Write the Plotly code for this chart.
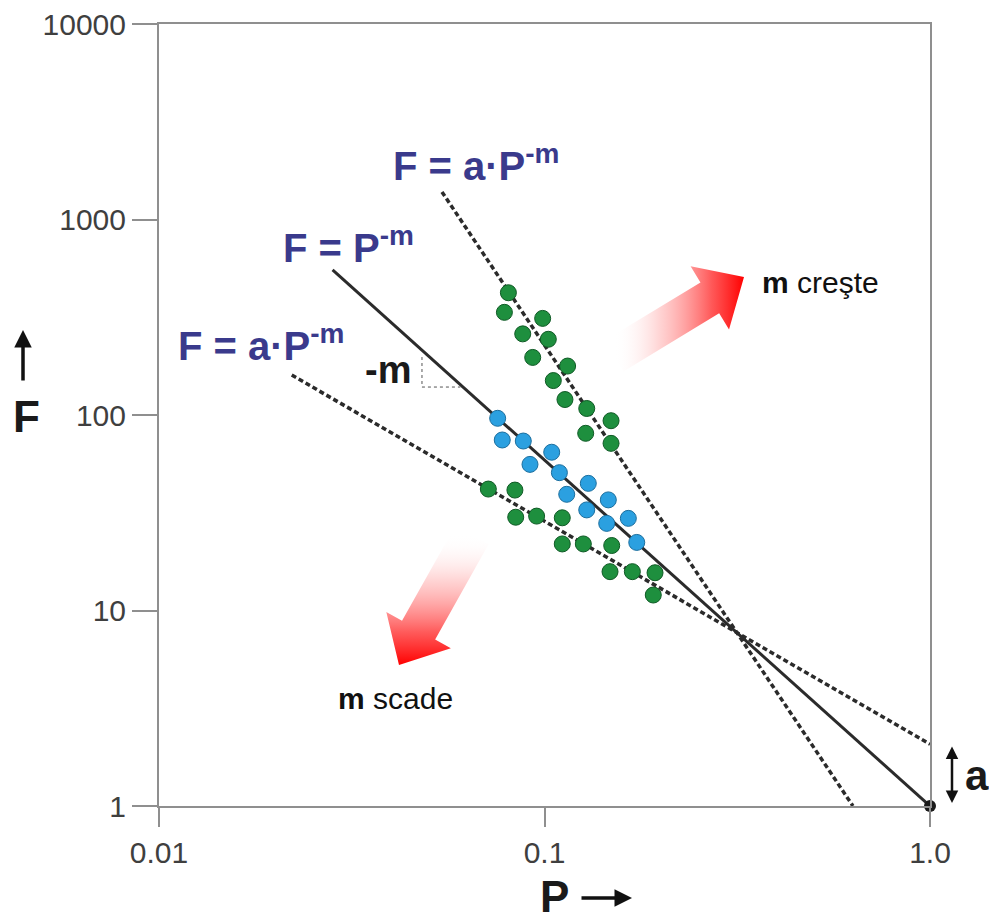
import numpy as np
import plotly.graph_objects as go

# ---- axis ticks ----
x_tickvals = [0.01, 0.1, 1.0]
x_ticktext = ["0.01", "0.1", "1.0"]
y_tickvals = [1, 10, 100, 1000, 10000]
y_ticktext = ["1", "10", "100", "1000", "10000"]

# ---- observations (P, F) ----
# green cloud following the steep trend
steep_P = [0.0806, 0.0787, 0.0989, 0.0878, 0.1023, 0.0932, 0.1148,
           0.1054, 0.1130, 0.1287, 0.1488, 0.1279, 0.1488]
steep_F = [422, 335, 312, 260, 244, 197, 178, 150, 120, 108, 93.5, 80.6, 71.6]

# blue cloud following the reference law
ref_P = [0.0756, 0.0777, 0.0881, 0.1044, 0.0917, 0.1093, 0.1299,
         0.1142, 0.1464, 0.1287, 0.1450, 0.1650, 0.1735]
ref_F = [96.2, 74.5, 73.6, 64.5, 55.9, 50.7, 44.7, 39.3, 36.8, 32.7, 27.9, 29.6, 22.3]

# green cloud following the shallow trend
shallow_P = [0.0715, 0.0838, 0.0842, 0.0954, 0.1112, 0.1112, 0.1261,
             0.1494, 0.1479, 0.1690, 0.1935, 0.1915]
shallow_F = [41.8, 41.3, 30.0, 30.4, 29.8, 21.9, 21.9, 21.5, 15.8, 15.8, 15.6, 12.0]

# ---- power-law guide lines (end points) ----
law_ref_P = [0.0282, 1.0]
law_ref_F = [552, 1.0]
law_steep_P = [0.0542, 0.631]
law_steep_F = [1384, 1.0]
law_shallow_P = [0.0221, 1.0]
law_shallow_F = [160, 2.07]

# slope triangle under the reference line
tri_P = [0.0481, 0.0481, 0.0605]
tri_F = [198, 139, 139]

# ---- styling ----
FONT = "Liberation Sans, Arial, sans-serif"
NAVY = "#3a3a8c"
INK = "#2b2b2b"
AXIS = "#8f8f8f"
GREEN = "#1e8f3e"
GREEN_EDGE = "#0f5a25"
BLUE = "#2ba0e0"
BLUE_EDGE = "#1b6e9e"

# plot area in page pixels
L, R, T, B = 159, 930, 24, 806
W, H = 989, 916


def pp(px, py):
    """page pixel -> paper coordinates"""
    return (px - L) / (R - L), (B - py) / (B - T)


def arrow_polygon(tail, tip, shaft_w, head_w, head_len):
    tail = np.array(tail, float)
    tip = np.array(tip, float)
    d = tip - tail
    u = d / np.hypot(*d)
    n = np.array([-u[1], u[0]])
    base = tip - u * head_len
    pts = [tail + n * shaft_w / 2, base + n * shaft_w / 2, base + n * head_w / 2,
           tip, base - n * head_w / 2, base - n * shaft_w / 2,
           tail - n * shaft_w / 2, tail + n * shaft_w / 2]
    xs, ys = zip(*pts)
    return list(xs), list(ys)


fig = go.Figure()

# gradient arrows (drawn on a pixel-scaled overlay)
fade = [[0.0, "rgba(255,255,255,0)"], [0.35, "rgba(255,160,160,0.45)"],
        [0.75, "rgba(255,60,60,0.85)"], [1.0, "rgba(255,0,0,1)"]]
ux, uy = arrow_polygon((614, 356), (744, 277), 36, 74, 40)
fig.add_trace(go.Scatter(x=ux, y=uy, xaxis="x2", yaxis="y2", mode="lines",
                         line=dict(width=0), fill="toself", hoverinfo="skip",
                         fillgradient=dict(type="horizontal", colorscale=fade,
                                           start=614, stop=744),
                         showlegend=False))
dx, dy = arrow_polygon((472, 535), (399, 665), 38, 74, 40)
fig.add_trace(go.Scatter(x=dx, y=dy, xaxis="x2", yaxis="y2", mode="lines",
                         line=dict(width=0), fill="toself", hoverinfo="skip",
                         fillgradient=dict(type="vertical", colorscale=fade,
                                           start=535, stop=665),
                         showlegend=False))

# guide lines
dash_style = dict(color=INK, width=3.5, dash="5px,3px")
fig.add_trace(go.Scatter(x=law_steep_P, y=law_steep_F, mode="lines",
                         line=dash_style, showlegend=False))
fig.add_trace(go.Scatter(x=law_shallow_P, y=law_shallow_F, mode="lines",
                         line=dash_style, showlegend=False))
fig.add_trace(go.Scatter(x=law_ref_P, y=law_ref_F, mode="lines",
                         line=dict(color=INK, width=3), showlegend=False))
fig.add_trace(go.Scatter(x=tri_P, y=tri_F, mode="lines",
                         line=dict(color="#555", width=1, dash="dot"),
                         showlegend=False))

# point clouds
for xs, ys, fc, ec in [(steep_P, steep_F, GREEN, GREEN_EDGE),
                       (shallow_P, shallow_F, GREEN, GREEN_EDGE),
                       (ref_P, ref_F, BLUE, BLUE_EDGE)]:
    fig.add_trace(go.Scatter(x=xs, y=ys, mode="markers",
                             marker=dict(size=16, color=fc,
                                         line=dict(color=ec, width=1)),
                             showlegend=False))

# anchor point of the reference law
fig.add_trace(go.Scatter(x=[law_ref_P[-1]], y=[law_ref_F[-1]], mode="markers",
                         marker=dict(size=12, color="#1a1a1a"),
                         cliponaxis=False, showlegend=False))

annotations = []


def label(px, py, text, size, color="#111", xanchor="left", yanchor="middle"):
    x, y = pp(px, py)
    annotations.append(dict(x=x, y=y, xref="paper", yref="paper", text=text,
                            showarrow=False, xanchor=xanchor, yanchor=yanchor,
                            font=dict(family=FONT, size=size, color=color)))


def arrow(tip, tail, width, side="end"):
    x, y = pp(*tip)
    annotations.append(dict(x=x, y=y, xref="paper", yref="paper", text="",
                            showarrow=True, ax=tail[0] - tip[0], ay=tail[1] - tip[1],
                            arrowhead=2, arrowsize=1, arrowwidth=width,
                            arrowside=side, arrowcolor="#111", standoff=0,
                            startstandoff=0))


label(391, 163, "<b>F = a·P<sup>-m</sup></b>", 40, NAVY)
label(281, 245, "<b>F = P<sup>-m</sup></b>", 40, NAVY)
label(176, 343, "<b>F = a·P<sup>-m</sup></b>", 40, NAVY)
label(363, 370, "<b>-m</b>", 38, "#1a1a1a")
label(760, 282, "<b>m</b> creşte", 30, "#111")
label(336, 698, "<b>m</b> scade", 30, "#111")
label(963, 775, "<b>a</b>", 42, "#1a1a1a")
label(11, 416, "<b>F</b>", 44, "#1a1a1a")
label(538, 896, "<b>P</b>", 44, "#1a1a1a")

arrow((632, 898), (580, 898), 3.5)
arrow((23, 330), (23, 382), 3.5)
arrow((952, 803), (952, 745), 2.5, side="end+start")

axis_common = dict(type="log", showline=True, linecolor=AXIS, linewidth=2,
                   mirror=True, ticks="outside", tickcolor=AXIS, tickwidth=1.5,
                   showgrid=False, zeroline=False, automargin=False,
                   tickfont=dict(family=FONT, size=30, color="#3f3f3f"))

fig.update_layout(
    width=W, height=H,
    margin=dict(l=L, r=W - R, t=T, b=H - B),
    paper_bgcolor="white", plot_bgcolor="white",
    xaxis=dict(**axis_common, range=[-2, 0], tickvals=x_tickvals,
               ticktext=x_ticktext, ticklen=19),
    yaxis=dict(**axis_common, range=[0, 4], tickvals=y_tickvals,
               ticktext=y_ticktext, ticklen=25),
    xaxis2=dict(overlaying="x", range=[L, R], visible=False),
    yaxis2=dict(overlaying="y", range=[B, T], visible=False),
    annotations=annotations,
)

fig.write_html("out.html")
